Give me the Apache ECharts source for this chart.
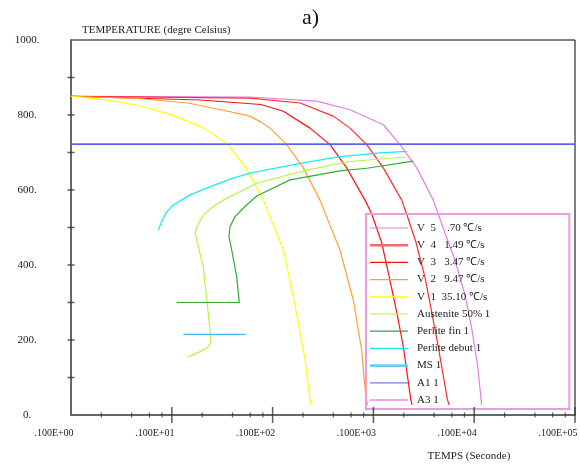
<!DOCTYPE html>
<html>
<head>
<meta charset="utf-8">
<script src="https://cdn.jsdelivr.net/npm/echarts@6/dist/echarts.min.js"></script>
<style>
html,body{margin:0;padding:0;background:#fff;}
#chart{width:580px;height:468px;}
</style>
</head>
<body>
<div id="chart"></div>
<script>
// ---- data (time in s, temperature in degrees C) ----
const v5Time = [1, 59.7, 274, 586, 1254, 1837, 2692, 3929, 4932, 6457, 8110, 9506, 10790, 11860];
const v5Temp = [850, 848, 837, 814, 774, 721, 659, 573, 498, 412, 320, 227, 133, 27];

const v4Time = [1, 59.7, 187, 400, 586, 859, 1254, 1910, 2138, 2649, 3251, 3784, 4403, 5408, 5623];
const v4Temp = [850, 845, 832, 797, 765, 721, 659, 573, 536, 460, 367, 275, 182, 43, 27];

const v3Time = [1, 19.1, 76.7, 128, 235, 371, 543, 826, 962, 1208, 1439, 1702, 1982, 2344, 2415];
const v3Temp = [850, 840, 828, 810, 765, 721, 659, 573, 536, 460, 367, 275, 182, 43, 27];

const v2Time = [1, 4.59, 14.4, 30.8, 59.7, 76.7, 94.2, 138, 202, 295, 466, 632, 765, 839, 878];
const v2Temp = [850, 844, 832, 814, 797, 781, 765, 721, 659, 573, 440, 307, 173, 49, 27];

const v1Time = [1, 2.14, 4.59, 9.82, 21.0, 36.3, 54.5, 80.9, 128, 163, 210, 239];
const v1Temp = [850, 841, 826, 801, 765, 721, 659, 573, 440, 307, 147, 27];

const austTime = [14.4, 19.1, 23.0, 24.5, 23.0, 20.5, 17.0, 17.7, 20.5, 25.8, 32.4, 69.5, 218, 586, 2104];
const austTemp = [155, 169, 182, 195, 271, 396, 485, 502, 533, 556, 573, 618, 653, 676, 688];

const pfinTime = [11.2, 46.7, 44.0, 39.3, 36.9, 37.8, 42.4, 53.2, 69.5, 149, 466, 859, 2489];
const pfinTemp = [300, 300, 369, 440, 476, 502, 529, 556, 584, 627, 651, 658, 677];

const pdebTime = [7.35, 7.94, 8.76, 10.3, 15.2, 22.2, 37.8, 59.7, 187, 466, 1161, 2138];
const pdebTemp = [493, 516, 539, 560, 587, 605, 629, 645, 671, 689, 699, 703];

const msTime = [13.0, 54.0];
const msTemp = [215, 215];

const a1Time = [1, 100000];
const a1Temp = [722, 722];

const a3Time = [1, 100000];
const a3Temp = [722, 722];

const seriesNames = ['V  5    .70 \u2103/s', 'V  4   1.49 \u2103/s', 'V  3   3.47 \u2103/s',
  'V  2   9.47 \u2103/s', 'V  1  35.10 \u2103/s', 'Austenite 50% 1', 'Perlite fin 1',
  'Perlite debut 1', 'MS 1', 'A1 1', 'A3 1'];

const xMajorTicks = [10, 100, 1000, 10000, 100000];
const xMinorTicks = [2, 4, 6, 8, 20, 40, 60, 80, 200, 400, 600, 800, 2000, 4000, 6000, 8000, 20000, 40000, 60000, 80000];
const yTicks = [100, 200, 300, 400, 500, 600, 700, 800, 900];

// ---- chart ----
const FONT = "'Liberation Serif', 'Times New Roman', serif";
const zip = (ts, Ts) => ts.map((t, i) => [t, Ts[i]]);

function curve(name, ts, Ts, color, width, z) {
  return {
    type: 'line', name: name, data: zip(ts, Ts),
    symbol: 'none', showSymbol: false, silent: true,
    lineStyle: { color: color, width: width }, itemStyle: { color: color },
    z: z || 3
  };
}

const colors = {
  v5: '#e57fe0', v4: '#ff2a2a', v3: '#ff1010', v2: '#ffa030', v1: '#ffff00',
  aust: '#b6f542', pfin: '#30ad30', pdeb: '#16eeee', ms: '#3cb8ff', a1: '#5a60ee', a3: '#f050c8'
};

const series = [
  curve(seriesNames[10], a3Time, a3Temp, colors.a3, 1.3, 2),
  curve(seriesNames[0], v5Time, v5Temp, colors.v5, 1.2),
  curve(seriesNames[1], v4Time, v4Temp, colors.v4, 1.2),
  curve(seriesNames[2], v3Time, v3Temp, colors.v3, 1.2),
  curve(seriesNames[3], v2Time, v2Temp, colors.v2, 1.2),
  curve(seriesNames[4], v1Time, v1Temp, colors.v1, 1.2),
  curve(seriesNames[5], austTime, austTemp, colors.aust, 1.2),
  curve(seriesNames[6], pfinTime, pfinTemp, colors.pfin, 1.2),
  curve(seriesNames[7], pdebTime, pdebTemp, colors.pdeb, 1.2),
  curve(seriesNames[8], msTime, msTemp, colors.ms, 1.2),
  curve(seriesNames[9], a1Time, a1Temp, colors.a1, 1.3, 4),
  {
    type: 'scatter', data: xMajorTicks.map(v => [v, 0]), symbol: 'rect', symbolSize: [1.5, 16],
    itemStyle: { color: '#333' }, clip: false, silent: true, z: 6
  },
  {
    type: 'scatter', data: xMinorTicks.map(v => [v, 0]), symbol: 'rect', symbolSize: [1.2, 5],
    itemStyle: { color: '#333' }, clip: false, silent: true, z: 6
  },
  {
    type: 'scatter', data: yTicks.map(v => [1, v]), symbol: 'rect', symbolSize: [7, 1.5],
    itemStyle: { color: '#333' }, clip: false, silent: true, z: 6
  }
];

// legend icons: thin filled bars inside a fixed 38x14 box
const THIN_ICON = 'path://M0,0 L0,0 M0,6.4 L38,6.4 L38,7.6 L0,7.6 Z M38,14 L38,14';
const THICK_ICON = 'path://M0,0 L0,0 M0,5.7 L38,5.7 L38,8.3 L0,8.3 Z M38,14 L38,14';
const legendColors = [colors.v5, '#f46a6a', colors.v3, colors.v2, colors.v1, colors.aust,
  colors.pfin, colors.pdeb, '#6ccdf2', '#6f84da', colors.a3];
const legendThick = [false, true, false, false, false, false, false, false, true, false, false];
const legendData = seriesNames.map((n, i) => ({
  name: n, icon: legendThick[i] ? THICK_ICON : THIN_ICON,
  itemStyle: { color: legendColors[i], borderWidth: 0 }
}));

const chart = echarts.init(document.getElementById('chart'), null, { renderer: 'canvas' });
chart.setOption({
  animation: false,
  backgroundColor: '#fff',
  grid: {
    left: 71, right: 5, top: 40, bottom: 53,
    containLabel: false, outerBoundsMode: 'none',
    show: true, borderColor: '#000', borderWidth: 1
  },
  graphic: [{
    type: 'text', left: 302, top: 7,
    style: { text: 'a)', font: "22px 'Liberation Serif', serif", fill: '#111' }
  }],
  legend: {
    orient: 'vertical', left: 366, top: 214,
    padding: [7, 79, 2, 4],
    itemWidth: 38, itemHeight: 14, itemGap: 3.2,
    borderColor: '#ec9be0', borderWidth: 2,
    selectedMode: false,
    textStyle: { fontFamily: FONT, fontSize: 11, color: '#222', padding: [0, 0, 0, 4] },
    data: legendData
  },
  xAxis: {
    type: 'log', logBase: 10, min: 1, max: 100000,
    axisLine: { show: true, onZero: false, lineStyle: { color: '#666', width: 2 } },
    axisTick: { show: false },
    minorTick: { show: false },
    splitLine: { show: false },
    axisLabel: {
      formatter: function (v) {
        const k = Math.round(Math.log10(v));
        return '.100E+' + (k < 10 ? '0' + k : k);
      },
      fontFamily: FONT, fontSize: 10, color: '#222', margin: 13,
      align: 'center', padding: [0, 34, 0, 0],
      showMinLabel: true, showMaxLabel: true, hideOverlap: false
    },
    name: 'TEMPS (Seconde)', nameLocation: 'middle', nameGap: 36,
    nameTextStyle: { fontFamily: FONT, fontSize: 11, color: '#222', verticalAlign: 'top', padding: [0, 0, 0, 292] }
  },
  yAxis: {
    type: 'value', min: 0, max: 1000, interval: 200,
    axisLine: { show: true, onZero: false, lineStyle: { color: '#666', width: 2 } },
    axisTick: { show: false },
    splitLine: { show: false },
    axisLabel: {
      formatter: function (v) { return v + '.'; },
      fontFamily: FONT, fontSize: 11, color: '#222', margin: 44, align: 'center'
    },
    name: 'TEMPERATURE (degre Celsius)', nameLocation: 'end', nameGap: 4,
    nameTextStyle: { fontFamily: FONT, fontSize: 11, color: '#222', align: 'left', verticalAlign: 'bottom', padding: [0, 0, 0, 11] }
  },
  series: series
});
</script>
</body>
</html>
